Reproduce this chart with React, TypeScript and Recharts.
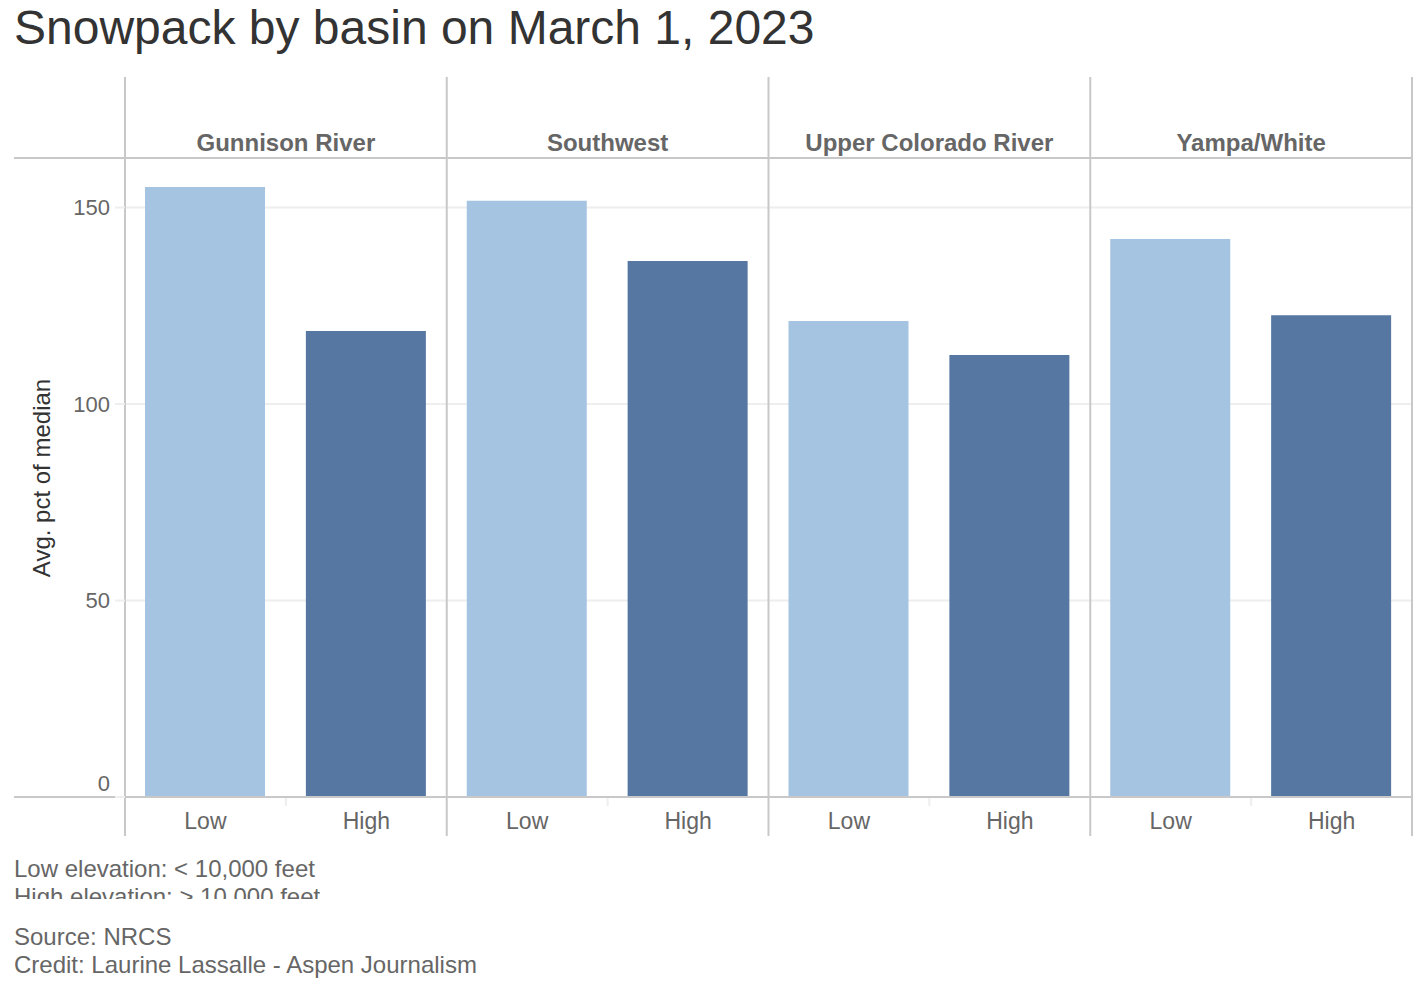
import React from 'react';
import { BarChart, Bar, Cell, XAxis, YAxis, CartesianGrid, ReferenceLine } from 'recharts';

const basins = ['Gunnison River', 'Southwest', 'Upper Colorado River', 'Yampa/White'];
const elevations = ['Low', 'High'];
const lowValues = [155.2, 151.7, 121.1, 142.0];
const highValues = [118.6, 136.4, 112.5, 122.6];
const yTicks = [0, 50, 100, 150];
const footNotes = ['Low elevation: < 10,000 feet', 'High elevation: > 10,000 feet'];
const credits = ['Source: NRCS', 'Credit: Laurine Lassalle - Aspen Journalism'];

const LOW_COLOR = '#a4c4e1';
const HIGH_COLOR = '#5677a2';
const FRAME = '#c8c8c8';
const FONT = '"Liberation Sans", Arial, Helvetica, sans-serif';

// pos = position of the bar inside the 0..4 facet frame
const rows = basins.flatMap((basin, i) =>
  elevations.map((elev, j) => ({
    key: `${basin}|${elev}`,
    basin,
    elev,
    pos: i + (j === 0 ? 0.25 : 0.75),
    value: elev === 'Low' ? lowValues[i] : highValues[i],
  }))
);

const Y_MAX = 162.6;
const HEADER_TOP = 183.2;
const FRAME_BOTTOM = -9.9;
const LEFT_EDGE = -0.345;

const YTick = (props: any) => {
  const { x, y, payload } = props;
  const shift = payload.value === 0 ? -14 : 0;
  return (
    <text x={x} y={y + shift} dy="0.355em" textAnchor="end" fill="#666" fontSize={22} fontFamily={FONT}>
      {payload.value}
    </text>
  );
};

const App: React.FC = () => {
  return (
    <div style={{ position: 'absolute', left: 0, top: 0, width: 1426, height: 988, background: '#fff', fontFamily: FONT }}>
      <div style={{ position: 'absolute', left: 14, top: 4, fontSize: 48, lineHeight: '48px', color: '#333', whiteSpace: 'nowrap' }}>
        Snowpack by basin on March 1, 2023
      </div>

      <div
        style={{
          position: 'absolute',
          left: 42 - 150,
          top: 477.5 - 12,
          width: 300,
          textAlign: 'center',
          fontSize: 24,
          lineHeight: '24px',
          color: '#333',
          transform: 'rotate(-90deg)',
          whiteSpace: 'nowrap',
          zIndex: 2,
        }}
      >
        Avg. pct of median
      </div>

      <div style={{ position: 'absolute', left: 0, top: 0 }}>
        <BarChart width={1426} height={860} data={rows} margin={{ top: 77, right: 14, left: 14, bottom: 23 }}>
          <CartesianGrid vertical={false} stroke="#eeeeee" strokeWidth={2} />
          <XAxis
            dataKey="key"
            height={40}
            axisLine={false}
            tickLine={false}
            tickSize={6}
            tickMargin={10}
            interval={0}
            tickFormatter={(k: string) => k.split('|')[1]}
            tick={{ fill: '#666', fontSize: 23, fontFamily: FONT }}
          />
          <XAxis
            xAxisId="frame"
            dataKey="pos"
            type="number"
            orientation="top"
            domain={[0, 4]}
            allowDataOverflow
            ticks={[0.5, 1.5, 2.5, 3.5]}
            height={81}
            axisLine={false}
            tickLine={false}
            tickSize={6}
            tickMargin={1}
            interval={0}
            tickFormatter={(v: number) => basins[Math.floor(v)]}
            tick={{ fill: '#666', fontSize: 24, fontWeight: 'bold', fontFamily: FONT }}
          />
          <YAxis
            width={111}
            domain={[0, Y_MAX]}
            ticks={yTicks}
            allowDataOverflow
            axisLine={false}
            tickSize={10}
            tickMargin={5}
            tickLine={{ stroke: '#eeeeee', strokeWidth: 2 }}
            tick={<YTick />}
          />
          <Bar dataKey="value" barSize={120} isAnimationActive={false}>
            {rows.map((r) => (
              <Cell key={r.key} fill={r.elev === 'Low' ? LOW_COLOR : HIGH_COLOR} />
            ))}
          </Bar>
          {basins.map((b, i) => (
            <ReferenceLine
              key={`mid-${b}`}
              xAxisId="frame"
              ifOverflow="visible"
              stroke="#eeeeee"
              strokeWidth={2}
              segment={[
                { x: i + 0.5, y: 0 },
                { x: i + 0.5, y: -2.3 },
              ]}
            />
          ))}
          <ReferenceLine
            xAxisId="frame"
            ifOverflow="visible"
            stroke={FRAME}
            strokeWidth={2}
            segment={[
              { x: LEFT_EDGE, y: Y_MAX },
              { x: 4, y: Y_MAX },
            ]}
          />
          <ReferenceLine
            xAxisId="frame"
            ifOverflow="visible"
            stroke={FRAME}
            strokeWidth={2}
            segment={[
              { x: LEFT_EDGE, y: 0 },
              { x: 4, y: 0 },
            ]}
          />
          {[0, 1, 2, 3, 4].map((i) => (
            <ReferenceLine
              key={`div-${i}`}
              xAxisId="frame"
              ifOverflow="visible"
              stroke={FRAME}
              strokeWidth={2}
              segment={[
                { x: i, y: HEADER_TOP },
                { x: i, y: FRAME_BOTTOM },
              ]}
            />
          ))}
        </BarChart>
      </div>

      <div style={{ position: 'absolute', left: 14, top: 855, height: 44, overflow: 'hidden', fontSize: 24, lineHeight: '28px', color: '#666' }}>
        {footNotes.map((t) => (
          <div key={t} style={{ whiteSpace: 'nowrap' }}>{t}</div>
        ))}
      </div>
      <div style={{ position: 'absolute', left: 14, top: 923, fontSize: 24, lineHeight: '28px', color: '#666' }}>
        {credits.map((t) => (
          <div key={t} style={{ whiteSpace: 'nowrap' }}>{t}</div>
        ))}
      </div>
    </div>
  );
};

export default App;
